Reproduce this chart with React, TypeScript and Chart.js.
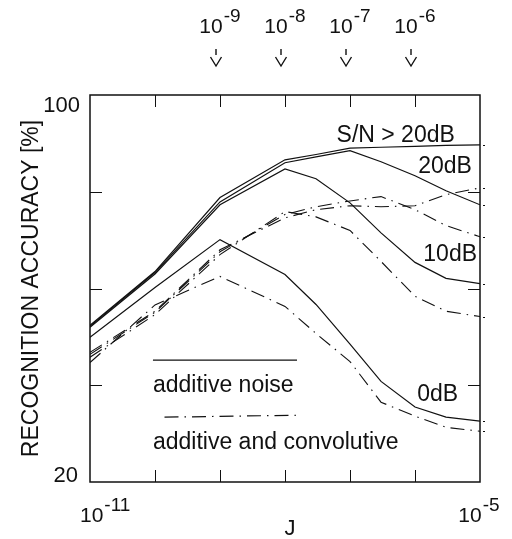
import { useEffect, useRef } from "react";
import { Chart, registerables } from "chart.js";

Chart.register(...registerables);

// ---- data ----
const J = [1e-11, 1e-10, 1e-9, 1e-8, 3e-8, 1e-7, 3e-7, 1e-6, 3e-6, 1e-5];

// additive noise (solid)
const ADD_ABOVE20 = [52.4, 63.5, 78.8, 86.6, 87.7, 89.0, 89.2, 89.4, 89.6, 89.7];
const ADD_20 = [52.2, 63.3, 77.9, 86.0, 87.2, 88.5, 86.2, 83.3, 80.2, 77.3];
const ADD_10 = [52.0, 63.0, 77.3, 84.7, 82.7, 77.7, 71.5, 65.4, 62.1, 61.0];
const ADD_0 = [49.9, 60.2, 70.1, 62.9, 56.7, 48.5, 40.8, 35.5, 33.4, 32.6];

// additive and convolutive (dash-dot)
const CONV_ABOVE20 = [46.8, 55.3, 68.0, 74.6, 76.3, 77.1, 76.9, 77.1, 79.4, 80.8];
const CONV_20 = [46.4, 55.1, 67.6, 75.3, 76.9, 78.1, 79.0, 76.3, 73.0, 70.7];
const CONV_10 = [45.8, 54.6, 67.0, 75.9, 74.8, 72.0, 65.6, 58.4, 55.3, 54.2];
const CONV_0 = [44.7, 56.6, 62.5, 56.3, 50.7, 44.9, 36.5, 33.6, 31.3, 30.5];

const X_DECADES = [1e-11, 1e-10, 1e-9, 1e-8, 1e-7, 1e-6, 1e-5];
const Y_TICKS = [20, 40, 60, 80, 100];
const Y_LABELED = [20, 100];
const TOP_EXPONENTS = [-9, -8, -7, -6];

const CURVE_LABELS = ["S/N > 20dB", "20dB", "10dB", "0dB"];
const CURVE_LABEL_AT = [
  [4.1e-6, 91.5],
  [7.5e-6, 85.2],
  [9.0e-6, 67.0],
  [4.6e-6, 38.1],
];

const LEGEND_TEXT = ["additive noise", "additive and convolutive"];

const FONT = '"Liberation Sans", Arial, Helvetica, sans-serif';
const INK = "#111";
const DASH_DOT = [14, 6, 1.5, 6];

function pts(ys: number[]) {
  return ys.map((y, i) => ({ x: J[i], y }));
}

const overlay = {
  id: "overlay",
  afterDraw(chart: any) {
    const ctx = chart.ctx as CanvasRenderingContext2D;
    const xs = chart.scales.x;
    const ys = chart.scales.y;
    const a = chart.chartArea;
    const px = (v: number) => xs.getPixelForValue(v);
    const py = (v: number) => ys.getPixelForValue(v);
    ctx.save();
    ctx.strokeStyle = INK;
    ctx.fillStyle = INK;

    // frame
    ctx.lineWidth = 1.5;
    ctx.strokeRect(a.left, a.top, a.right - a.left, a.bottom - a.top);

    // inward ticks
    ctx.lineWidth = 1;
    const tl = 12;
    ctx.beginPath();
    X_DECADES.slice(1, -1).forEach((v) => {
      const x = Math.round(px(v)) + 0.5;
      ctx.moveTo(x, a.top);
      ctx.lineTo(x, a.top + tl);
      ctx.moveTo(x, a.bottom);
      ctx.lineTo(x, a.bottom - tl);
    });
    Y_TICKS.slice(1, -1).forEach((v) => {
      const y = Math.round(py(v)) + 0.5;
      ctx.moveTo(a.left, y);
      ctx.lineTo(a.left + tl, y);
      ctx.moveTo(a.right, y);
      ctx.lineTo(a.right - tl, y);
    });
    ctx.stroke();

    // end marks just outside right frame
    ctx.beginPath();
    chart.data.datasets.forEach((ds: any) => {
      const last = ds.data[ds.data.length - 1];
      const y = Math.round(py(last.y)) + 0.5;
      ctx.moveTo(a.right + 3, y);
      ctx.lineTo(a.right + 5, y);
    });
    ctx.stroke();

    // y tick labels
    ctx.font = `22px ${FONT}`;
    ctx.textAlign = "right";
    ctx.textBaseline = "alphabetic";
    Y_LABELED.forEach((v) => {
      const y = py(v);
      if (v === 100) ctx.fillText(String(v), a.left - 10, y + 17);
      else ctx.fillText(String(v), a.left - 12, y);
    });

    // power-of-ten labels
    const pow = (x: number, base: number, exp: number, align: string) => {
      ctx.font = `21px ${FONT}`;
      const w1 = ctx.measureText("10").width;
      ctx.font = `19px ${FONT}`;
      const e = "-" + String(Math.abs(exp));
      const w2 = ctx.measureText(e).width;
      const total = w1 + 1 + w2;
      let start = x - total / 2;
      if (align === "left") start = x;
      ctx.textAlign = "left";
      ctx.font = `21px ${FONT}`;
      ctx.fillText("10", start, base);
      ctx.font = `19px ${FONT}`;
      ctx.fillText(e, start + w1 + 1, base - 11);
    };
    pow(px(1e-11) - 10, a.bottom + 40, -11, "left");
    pow(px(1e-5) - 1, a.bottom + 40, -5, "center");
    TOP_EXPONENTS.forEach((ex) => {
      pow(px(Math.pow(10, ex)), 33, ex, "center");
    });

    // arrows under top labels
    ctx.lineWidth = 1.4;
    TOP_EXPONENTS.forEach((ex) => {
      const x = px(Math.pow(10, ex)) - 4;
      ctx.beginPath();
      ctx.moveTo(x, 49);
      ctx.lineTo(x, 55);
      ctx.moveTo(x - 5.5, 57);
      ctx.lineTo(x, 66);
      ctx.lineTo(x + 5.5, 57);
      ctx.stroke();
    });

    // axis titles
    ctx.font = `22px ${FONT}`;
    ctx.textAlign = "center";
    ctx.textBaseline = "alphabetic";
    ctx.fillText("J", (a.left + a.right) / 2 + 5, a.bottom + 53);
    ctx.save();
    ctx.translate(38, (a.top + a.bottom) / 2 + 0);
    ctx.rotate(-Math.PI / 2);
    ctx.font = `23px ${FONT}`;
    ctx.fillText("RECOGNITION ACCURACY [%]", 0, 0);
    ctx.restore();

    // curve labels
    ctx.font = `23px ${FONT}`;
    ctx.textAlign = "right";
    ctx.textBaseline = "middle";
    CURVE_LABELS.forEach((t, i) => {
      const [lx, ly] = CURVE_LABEL_AT[i];
      ctx.fillText(t, px(lx), py(ly));
    });

    // legend
    ctx.lineWidth = 1.2;
    ctx.beginPath();
    ctx.moveTo(px(9.3e-11), py(45.2));
    ctx.lineTo(px(1.53e-8), py(45.2));
    ctx.stroke();
    ctx.setLineDash(DASH_DOT);
    ctx.beginPath();
    ctx.moveTo(px(1.4e-10), py(33.4));
    ctx.lineTo(px(1.53e-8), py(33.8));
    ctx.stroke();
    ctx.setLineDash([]);
    ctx.font = `23px ${FONT}`;
    ctx.textAlign = "left";
    ctx.textBaseline = "middle";
    ctx.fillText(LEGEND_TEXT[0], px(9.3e-11), py(40.0));
    ctx.fillText(LEGEND_TEXT[1], px(9.3e-11), py(28.2));

    ctx.restore();
  },
};

export default function App() {
  const ref = useRef<HTMLCanvasElement | null>(null);
  useEffect(() => {
    if (!ref.current) return;
    const solid = (label: string, ys: number[]) => ({
      label,
      data: pts(ys),
      borderColor: INK,
      borderWidth: 1.2,
      pointRadius: 0,
      tension: 0,
      fill: false,
    });
    const dashed = (label: string, ys: number[]) => ({
      label,
      data: pts(ys),
      borderColor: INK,
      borderWidth: 1.1,
      borderDash: DASH_DOT,
      pointRadius: 0,
      tension: 0,
      fill: false,
    });
    const chart = new Chart(ref.current, {
      type: "line",
      data: {
        datasets: [
          solid("additive S/N > 20dB", ADD_ABOVE20),
          solid("additive 20dB", ADD_20),
          solid("additive 10dB", ADD_10),
          solid("additive 0dB", ADD_0),
          dashed("conv S/N > 20dB", CONV_ABOVE20),
          dashed("conv 20dB", CONV_20),
          dashed("conv 10dB", CONV_10),
          dashed("conv 0dB", CONV_0),
        ],
      },
      options: {
        responsive: false,
        animation: false,
        layout: { padding: { left: 90, right: 32, top: 95, bottom: 57 } },
        plugins: { legend: { display: false }, tooltip: { enabled: false } },
        scales: {
          x: { type: "logarithmic", min: 1e-11, max: 1e-5, display: false },
          y: { type: "linear", min: 20, max: 100, display: false },
        },
      },
      plugins: [overlay],
    });
    return () => chart.destroy();
  }, []);
  return (
    <div style={{ position: "absolute", left: 0, top: 0, width: 512, height: 539, background: "#fff" }}>
      <canvas ref={ref} width={512} height={539} />
    </div>
  );
}
